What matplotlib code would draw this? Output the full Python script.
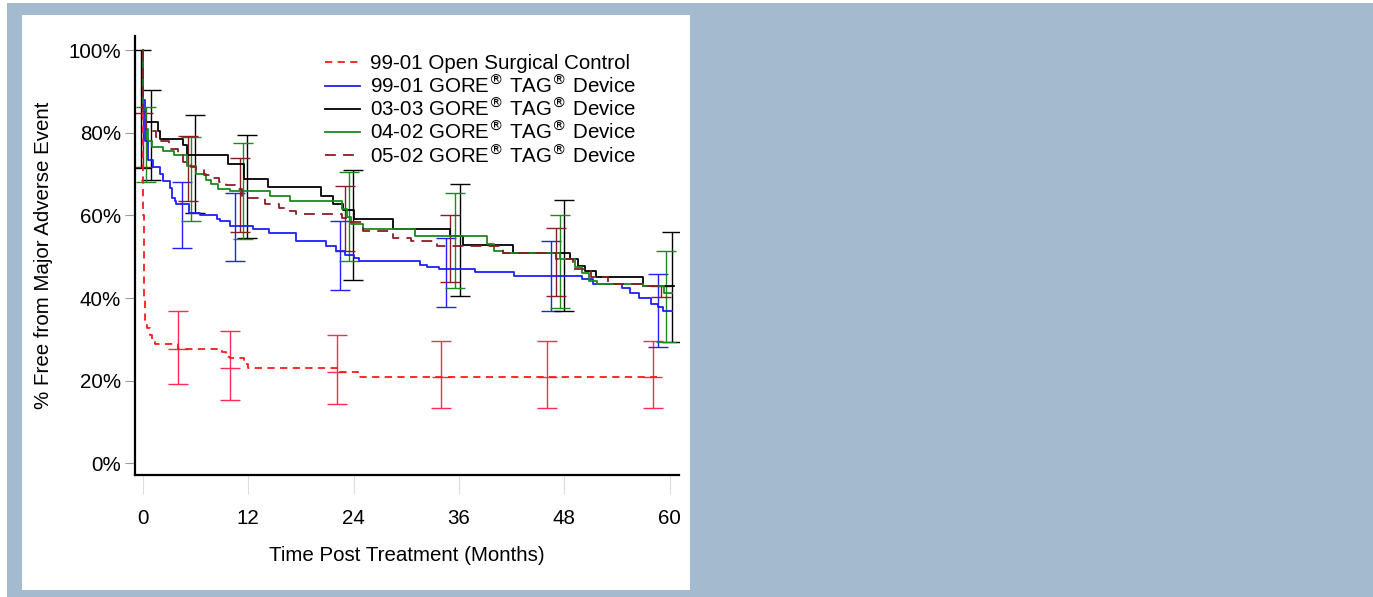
import matplotlib.pyplot as plt
import matplotlib.patches as mpatches

plt.rcParams['font.family'] = ['Liberation Sans', 'DejaVu Sans']

# Kaplan-Meier style step curves (months, % free)
red_t = [0, 0.05, 0.1, 0.2, 0.5, 0.8, 1.0, 1.4, 4.0, 9.0, 9.5, 9.9, 11.5, 12.0, 22.1, 24.5, 58.5]
red_s = [100, 60, 40, 33.5, 32.7, 31, 30, 28.8, 27.7, 27.0, 25.8, 25.4, 24.0, 23.2, 22.1, 20.8, 20.8]

blue_t = [0, 0.05, 0.2, 0.6, 1.2, 1.9, 2.3, 3.1, 3.3, 3.6, 3.8, 5.2, 6.5, 8.4, 8.8, 9.9, 12.5, 14.4,
          17.4, 20.8, 22.0, 23.0, 24.0, 24.6, 31.5, 32.4, 33.7, 37.8, 42.2, 50.0, 51.3, 54.5, 55.5,
          56.5, 57.9, 58.6, 59.2, 60.3]
blue_s = [100, 88, 78, 73.3, 71.6, 70, 68.4, 66.7, 64.3, 63.5, 62.8, 60.7, 60.2, 59.2, 58.7, 57.5,
          56.8, 55.8, 53.7, 52.7, 51.5, 50.5, 49.8, 49, 48, 47.4, 47, 46.4, 45.4, 44.6, 43.5, 42.5,
          41.2, 40, 38.5, 37.8, 36.8, 36.8]

black_t = [0, 0.05, 0.4, 1.7, 2.0, 4.6, 5.0, 9.7, 11.5, 14.2, 20.3, 21.7, 22.8, 24.0, 28.5, 35.0,
           36.4, 42.1, 48.6, 49.5, 50.3, 51.6, 56.9, 60.5]
black_s = [100, 86, 82.6, 80.5, 78.6, 77, 74.5, 72.5, 68.9, 66.8, 64.8, 62.8, 61.2, 59.2, 56.8, 55.1,
           52.9, 51, 49.5, 47.8, 46.5, 45.2, 43, 43]

green_t = [0, 0.05, 0.3, 0.6, 1.0, 2.3, 3.5, 5.0, 6.1, 7.2, 7.8, 8.5, 9.9, 14.5, 16.8, 17.4, 22.7,
           23.2, 23.7, 25.1, 31.0, 39.2, 40.0, 41.0, 47.5, 49.2, 50.0, 50.8, 51.7, 56.9, 59.3, 60.3]
green_s = [100, 86, 81, 78, 76.5, 75.5, 74.5, 72, 70, 68.5, 67.5, 66.5, 66, 64.8, 63.6, 63.6, 61.5,
           59.5, 58, 56.8, 55.1, 53, 51.3, 51, 49.4, 47.5, 46, 44.2, 43.4, 43, 41.2, 41.2]

brown_t = [0, 0.05, 0.3, 1.5, 2.0, 3.0, 4.0, 4.6, 5.5, 6.1, 7.0, 8.0, 8.7, 9.5, 10.5, 11.3, 13.9,
           15.5, 16.7, 17.4, 22.7, 23.5, 25.1, 28.5, 30.5, 33.5, 36.0, 41.0, 47.0, 49.0, 51.0, 53.0,
           57.0, 59.5]
brown_s = [100, 85, 80.3, 79, 78, 76, 74.5, 73, 71.6, 71, 69.8, 69, 68, 67.3, 66.5, 64.3, 62.8, 61.8,
           61, 60.4, 59.4, 58.3, 56.3, 54.6, 53.9, 52.7, 52.5, 51, 49.5, 47, 45, 43.5, 43, 43]

# confidence intervals: (time, lower, upper)
red_ci_t = [4.0, 9.9, 22.05, 33.97, 46.07, 58.05]
red_ci_lo = [19.2, 15.4, 14.3, 13.4, 13.4, 13.4]
red_ci_hi = [36.9, 32.0, 31.0, 29.6, 29.6, 29.6]
red_ci_mid = [27.7, 23.2, 22.1, 20.8, 20.8, 20.8]

blue_ci_t = [4.4, 10.5, 22.5, 34.5, 46.5, 58.6]
blue_ci_lo = [52.0, 49.0, 42.0, 37.9, 36.9, 28.1]
blue_ci_hi = [68.0, 65.3, 58.7, 54.6, 53.7, 45.8]

black_ci_t = [-0.2, 0.9, 5.9, 11.8, 23.9, 36.1, 47.9, 60.2]
black_ci_lo = [71.5, 68.6, 60.5, 54.5, 44.4, 40.5, 36.9, 29.4]
black_ci_hi = [100.0, 90.3, 84.2, 79.4, 70.9, 67.5, 63.8, 56.1]

green_ci_t = [0.4, 5.5, 11.4, 23.5, 35.5, 47.5, 59.6]
green_ci_lo = [68.0, 58.7, 54.4, 49.0, 42.5, 37.7, 29.4]
green_ci_hi = [86.3, 79.0, 77.4, 70.5, 65.4, 60.0, 51.3]

brown_ci_t = [0.0, 5.1, 11.0, 23.0, 35.0, 47.0, 59.0]
brown_ci_lo = [71.8, 63.4, 56.0, 51.5, 43.8, 40.5, 40.2]
brown_ci_hi = [84.8, 79.1, 74.0, 67.2, 60.2, 57.0, 43.0]

labels = ['99-01 Open Surgical Control',
          r'99-01 GORE$^{\circledR}$ TAG$^{\circledR}$ Device',
          r'03-03 GORE$^{\circledR}$ TAG$^{\circledR}$ Device',
          r'04-02 GORE$^{\circledR}$ TAG$^{\circledR}$ Device',
          r'05-02 GORE$^{\circledR}$ TAG$^{\circledR}$ Device']

RED = '#ff1a1a'
REDBAR = '#ff2a55'
BLUE = '#1f1fff'
GREEN = '#1a8a1a'
BROWN = '#8b1c24'
FS = 14.8

fig = plt.figure(figsize=(13.73, 5.97), dpi=100)
fig.patch.set_facecolor('#a4bace')
# white panel plus thin light border at top and left edges
for x0, y0, w, h in [(22, 7, 668, 575), (0, 0, 7, 597), (0, 594, 1373, 3)]:
    fig.patches.append(mpatches.Rectangle((x0 / 1373, y0 / 597), w / 1373, h / 597,
                                          transform=fig.transFigure, facecolor='white',
                                          edgecolor='none', zorder=-5))

ax = fig.add_axes([135 / 1373, 1 - 475 / 597, 543.6 / 1373, 439 / 597])
ax.set_facecolor('none')
ax.set_zorder(2)

def ci(t, lo, hi, color):
    mid = [(a + b) / 2 for a, b in zip(lo, hi)]
    ax.errorbar(t, mid, yerr=[[m - a for m, a in zip(mid, lo)], [b - m for m, b in zip(mid, hi)]],
                fmt='none', ecolor=color, elinewidth=1.0, capsize=7.5, capthick=1.0, zorder=2)

ci(red_ci_t, red_ci_lo, red_ci_hi, REDBAR)
ci(blue_ci_t, blue_ci_lo, blue_ci_hi, BLUE)
ci(black_ci_t, black_ci_lo, black_ci_hi, 'black')
ci(green_ci_t, green_ci_lo, green_ci_hi, GREEN)
ci(brown_ci_t, brown_ci_lo, brown_ci_hi, BROWN)
# centre marks on control bars
ax.errorbar(red_ci_t, red_ci_mid, xerr=1.1, fmt='none', ecolor=REDBAR, elinewidth=1.0, zorder=2)

l1, = ax.plot(red_t, red_s, drawstyle='steps-post', color=RED, lw=1.3, dashes=(4, 3), zorder=3)
l2, = ax.plot(blue_t, blue_s, drawstyle='steps-post', color=BLUE, lw=1.3, zorder=3)
l3, = ax.plot(black_t, black_s, drawstyle='steps-post', color='black', lw=1.3, zorder=3)
l4, = ax.plot(green_t, green_s, drawstyle='steps-post', color=GREEN, lw=1.3, zorder=3)
l5, = ax.plot(brown_t, brown_s, drawstyle='steps-post', color=BROWN, lw=1.3, dashes=(6, 4), zorder=3)

ax.set_xlim(-0.9, 61)
ax.set_ylim(-2.8, 103.4)
ax.set_xticks([0, 12, 24, 36, 48, 60])
ax.set_yticks([0, 20, 40, 60, 80, 100])
ax.set_yticklabels(['0%', '20%', '40%', '60%', '80%', '100%'])
for s in ['top', 'right']:
    ax.spines[s].set_visible(False)
for s in ['left', 'bottom']:
    ax.spines[s].set_linewidth(1.6)
ax.tick_params(axis='y', length=7, width=0.8, color='#999999', labelsize=FS, pad=3)
ax.tick_params(axis='x', length=14, width=0.8, color='#dddddd', labelsize=FS, pad=10.5)

ax.set_xlabel('Time Post Treatment (Months)', fontsize=FS, labelpad=13)
ax.set_ylabel('% Free from Major Adverse Event', fontsize=FS, labelpad=11)

ax.legend([l1, l2, l3, l4, l5], labels, loc='upper left', bbox_to_anchor=(0.35, 0.958),
          frameon=False, fontsize=FS, handlelength=1.7, handletextpad=0.5,
          labelspacing=0.02, borderpad=0, borderaxespad=0)

plt.savefig('out.png', dpi=100, facecolor=fig.get_facecolor())
